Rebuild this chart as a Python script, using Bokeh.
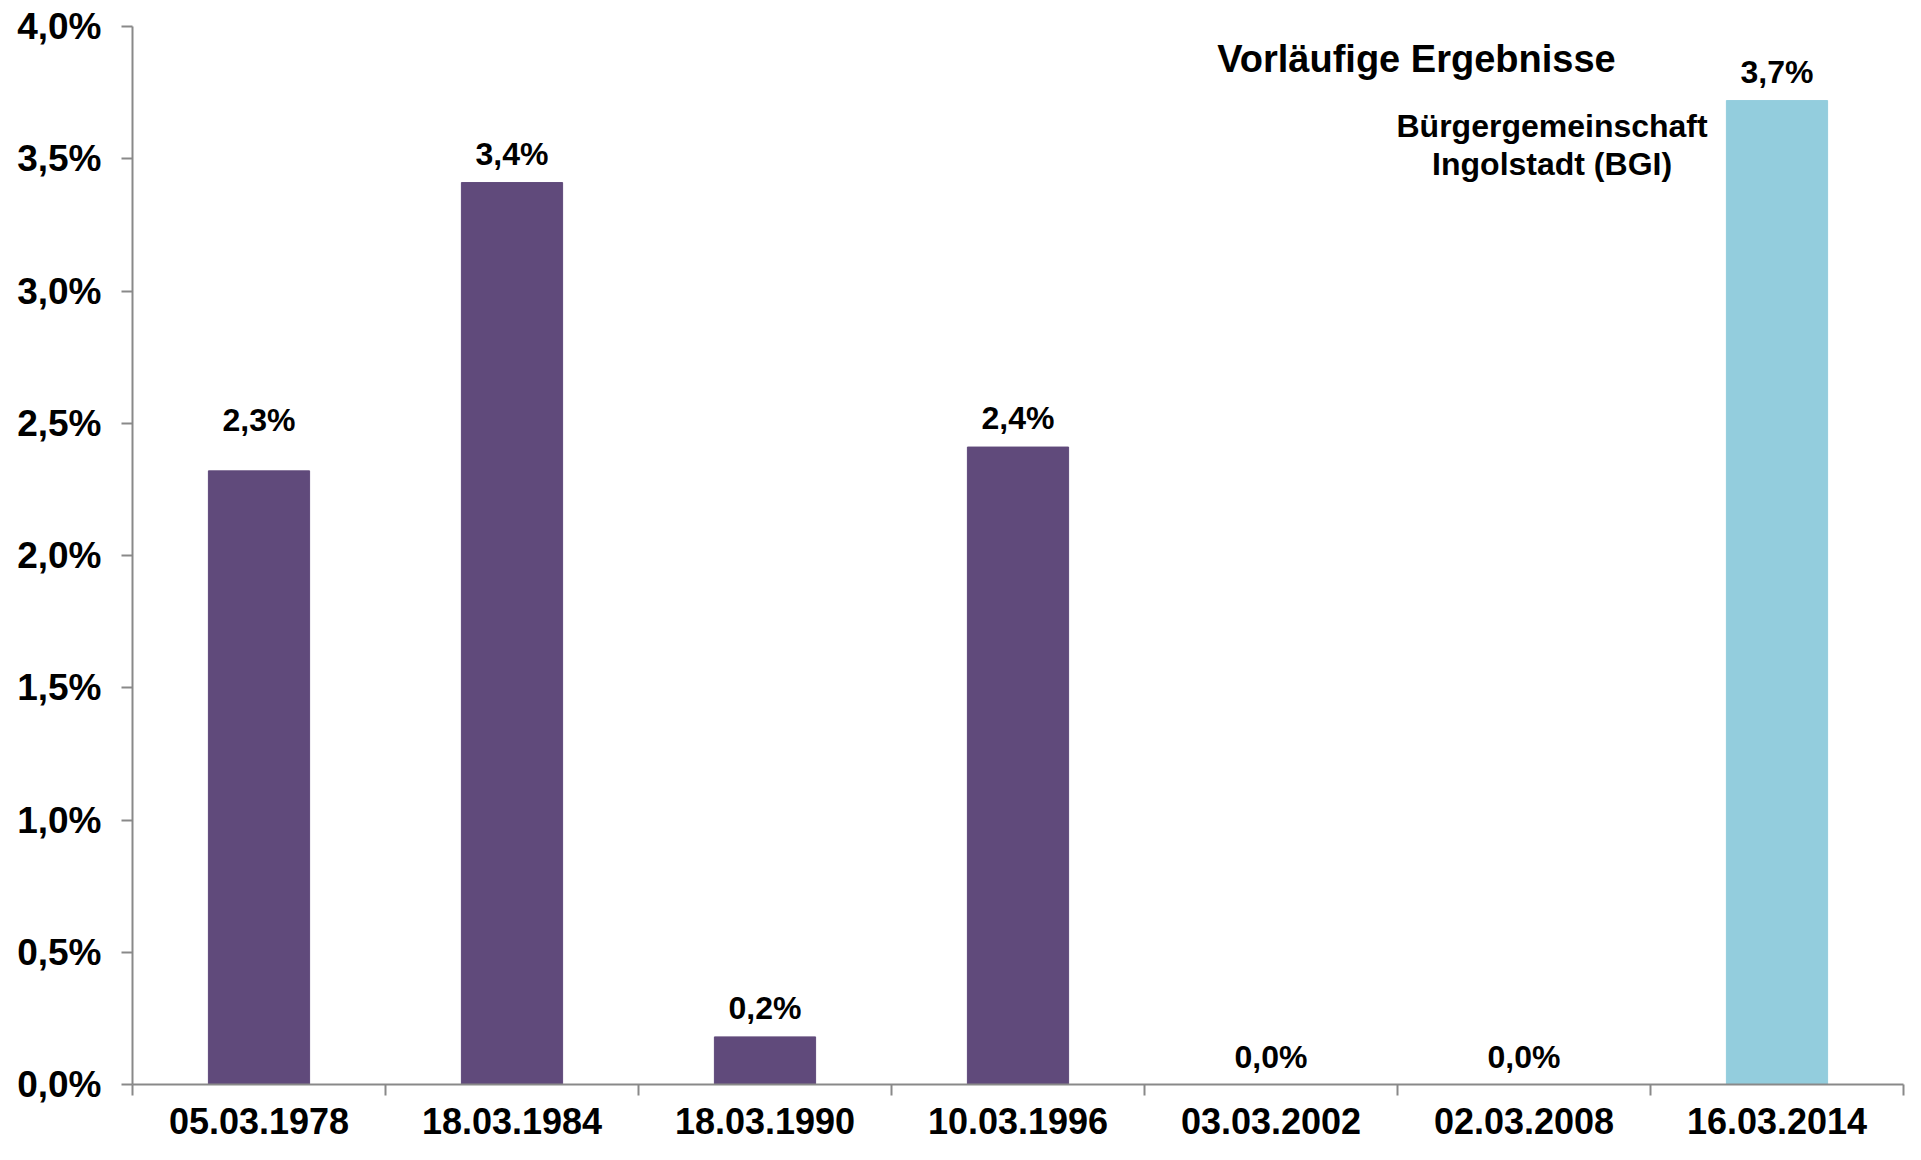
from bokeh.plotting import figure
from bokeh.models import FixedTicker, ColumnDataSource, Range1d
from bokeh.embed import file_html
from bokeh.resources import INLINE
from bokeh.core.properties import value

# ---- data ----
dates = ["05.03.1978", "18.03.1984", "18.03.1990", "10.03.1996",
         "03.03.2002", "02.03.2008", "16.03.2014"]
shares = [2.32, 3.41, 0.18, 2.41, 0.0, 0.0, 3.72]
share_labels = ["2,3%", "3,4%", "0,2%", "2,4%", "0,0%", "0,0%", "3,7%"]
y_ticks = [0.0, 0.5, 1.0, 1.5, 2.0, 2.5, 3.0, 3.5, 4.0]
y_tick_labels = ["0,0%", "0,5%", "1,0%", "1,5%", "2,0%", "2,5%", "3,0%", "3,5%", "4,0%"]
title_text = "Vorläufige Ergebnisse"
party_lines = ["Bürgergemeinschaft", "Ingolstadt (BGI)"]

# ---- styles ----
PURPLE = "#604A7B"
BLUE = "#93CDDD"
bar_colors = [PURPLE] * 6 + [BLUE]
label_lift = [51, 29, 29, 29, 28, 28, 29]
FONT = "Liberation Sans"
AXIS_GREY = "#898989"

n = len(dates)
centers = [i + 0.5 for i in range(n)]
boundaries = list(range(n + 1))

src = ColumnDataSource(dict(x=centers, top=shares, color=bar_colors,
                            lab=share_labels, lift=[-v for v in label_lift]))

p = figure(width=1905, height=1144, x_range=Range1d(0, n), y_range=Range1d(0, 4),
           output_backend="svg", toolbar_location=None,
           min_border_left=132, min_border_right=2, min_border_top=26, min_border_bottom=60)
p.outline_line_color = None
p.xgrid.visible = False
p.ygrid.visible = False
p.background_fill_color = "white"
p.border_fill_color = "white"

p.vbar(x="x", top="top", bottom=0, width=0.4, color="color", source=src)

p.text(x="x", y="top", text="lab", y_offset="lift", source=src,
       text_align="center", text_baseline="alphabetic",
       text_font=value(FONT), text_font_style="bold", text_font_size="32px",
       text_color="black")

# annotations
p.text(x=[5.075], y=[3.879], text=[title_text], text_align="center",
       text_baseline="alphabetic", text_font=value(FONT), text_font_style="bold",
       text_font_size="38px", text_color="black")
p.text(x=[5.611, 5.611], y=[3.622, 3.482], text=party_lines, text_align="center",
       text_baseline="alphabetic", text_font=value(FONT), text_font_style="bold",
       text_font_size="32px", text_color="black")

# x axis: labels at centers, ticks at category boundaries
xa = p.xaxis[0]
xa.ticker = FixedTicker(ticks=centers, minor_ticks=boundaries)
xa.major_label_overrides = {c: d for c, d in zip(centers, dates)}
xa.major_tick_line_color = None
xa.major_tick_out = 0
xa.major_tick_in = 0
xa.minor_tick_out = 11
xa.minor_tick_in = 0
xa.minor_tick_line_color = AXIS_GREY
xa.minor_tick_line_width = 2
xa.axis_line_color = AXIS_GREY
xa.axis_line_width = 2
xa.major_label_text_font = FONT
xa.major_label_text_font_style = "bold"
xa.major_label_text_font_size = "36px"
xa.major_label_text_color = "black"
xa.major_label_standoff = 12

ya = p.yaxis[0]
ya.ticker = FixedTicker(ticks=y_ticks)
ya.minor_tick_line_color = None
ya.major_label_overrides = {t: l for t, l in zip(y_ticks, y_tick_labels)}
ya.major_tick_out = 11
ya.major_tick_in = 0
ya.major_tick_line_color = AXIS_GREY
ya.major_tick_line_width = 2
ya.axis_line_color = AXIS_GREY
ya.axis_line_width = 2
ya.major_label_text_font = FONT
ya.major_label_text_font_style = "bold"
ya.major_label_text_font_size = "37px"
ya.major_label_text_color = "black"
ya.major_label_standoff = 20

open("out.html", "w").write(file_html(p, INLINE))
